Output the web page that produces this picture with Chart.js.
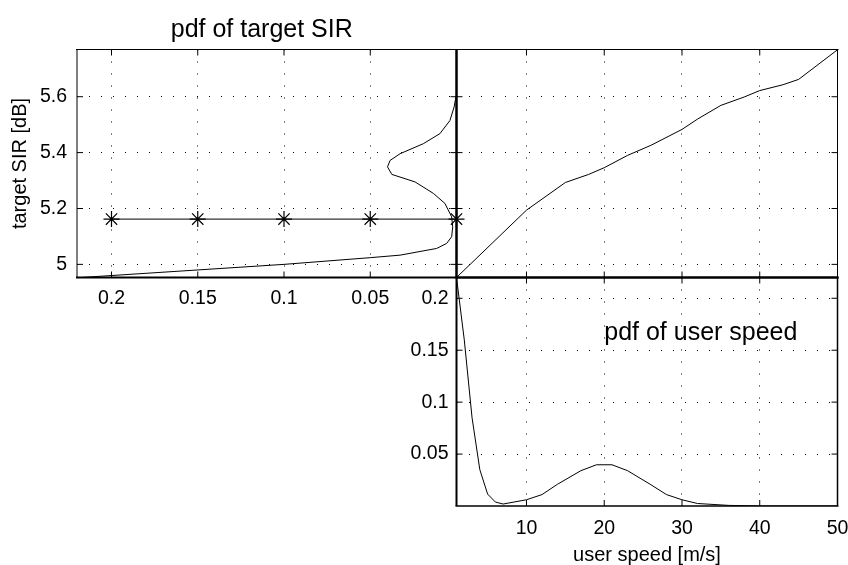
<!DOCTYPE html>
<html>
<head>
<meta charset="utf-8">
<script src="https://cdn.jsdelivr.net/npm/chart.js@4.4.1/dist/chart.umd.min.js"></script>
<style>
    html, body { margin: 0; padding: 0; background: #fff; }
    #wrap { position: relative; width: 848px; height: 565px; }
    #wrap canvas { position: absolute; left: 0; top: 0; }
</style>
</head>
<body>
<div id="wrap">
    <canvas id="sirPdfGraph" width="848" height="565"></canvas>
    <canvas id="sirSpeedGraph" width="848" height="565"></canvas>
    <canvas id="speedPdfGraph" width="848" height="565"></canvas>
</div>
<script>
// pdf of target SIR (top left, pdf axis reversed)
const sirPdfSir = [4.952, 5.0, 5.024, 5.033, 5.057, 5.075, 5.099, 5.134, 5.17, 5.218, 5.254, 5.295, 5.322, 5.349, 5.372, 5.396, 5.432, 5.468, 5.515, 5.563, 5.6];
const sirPdfValues = [0.22, 0.1, 0.05, 0.0327, 0.0115, 0.0057, 0.0028, 0.0022, 0.0028, 0.0067, 0.0134, 0.024, 0.0375, 0.04, 0.0385, 0.0327, 0.0192, 0.0096, 0.0038, 0.0014, 0.0003];
const starPdf = [0.2, 0.15, 0.1, 0.05, 0];
const starSir = 5.162;

// target SIR vs user speed (top right)
const meanSpeed = [1, 10, 15, 18, 20, 23, 26, 30, 32, 35, 38, 40, 43, 45, 50];
const meanSir = [4.953, 5.194, 5.293, 5.322, 5.346, 5.39, 5.426, 5.483, 5.52, 5.569, 5.599, 5.622, 5.643, 5.662, 5.768];

// pdf of user speed (bottom right)
const speedPdfSpeed = [1, 2, 3, 4, 5, 6, 7, 10, 12, 14, 17, 19, 21, 23, 26, 28, 30, 32, 36, 40, 50];
const speedPdfValues = [0.22, 0.16, 0.085, 0.035, 0.0115, 0.0038, 0.0019, 0.006, 0.011, 0.021, 0.034, 0.0397, 0.0397, 0.034, 0.0205, 0.011, 0.006, 0.0024, 0.0006, 0.0, 0.0];

// tick values
const pdfTicks = [0.2, 0.15, 0.1, 0.05];
const sirTicks = [5, 5.2, 5.4, 5.6];
const speedTicks = [10, 20, 30, 40, 50];
const speedPdfTicks = [0.05, 0.1, 0.15, 0.2];

const fontFamily = '"Liberation Sans", Arial, Helvetica, sans-serif';

// fixes the size of an axis so the three plot boxes line up
function fix_size(size) {
    return function (scale) {
        if (scale.isHorizontal()) {
            scale.height = size;
        } else {
            scale.width = size;
        }
        scale.paddingLeft = 0;
        scale.paddingRight = 0;
        scale.paddingTop = 0;
        scale.paddingBottom = 0;
    };
}

// builds a linear axis with dotted grid lines and fixed ticks
function get_axis(min, max, tickValues, size, showLabels, padding, extra) {
    const axis = {
        type: "linear",
        min: min,
        max: max,
        afterBuildTicks: (scale) => {
            scale.ticks = tickValues.map((v) => ({ value: v }));
        },
        afterFit: fix_size(size),
        ticks: {
            display: showLabels,
            autoSkip: false,
            maxRotation: 0,
            padding: padding,
            color: "#000",
            font: { family: fontFamily, size: 19.5 },
            callback: (value) => String(value),
        },
        grid: {
            color: "#000",
            lineWidth: 1,
            drawTicks: false,
            borderDash: [1, 11],
        },
        border: { display: false, dash: [1, 11] },
    };
    return Object.assign(axis, extra || {});
}

// draws the box round the plot and MATLAB style inward ticks
const panelBox = {
    id: "panelBox",
    afterDraw(chart, args, opts) {
        const { ctx, chartArea: a, scales } = chart;
        ctx.save();
        ctx.strokeStyle = "#000";
        ctx.lineWidth = 1;
        ctx.beginPath();
        scales.x.ticks.forEach((t) => {
            const x = scales.x.getPixelForValue(t.value);
            ctx.moveTo(x, a.bottom); ctx.lineTo(x, a.bottom - 6);
            ctx.moveTo(x, a.top); ctx.lineTo(x, a.top + 6);
        });
        scales.y.ticks.forEach((t) => {
            const y = scales.y.getPixelForValue(t.value);
            ctx.moveTo(a.left, y); ctx.lineTo(a.left + 6, y);
            ctx.moveTo(a.right, y); ctx.lineTo(a.right - 6, y);
        });
        ctx.stroke();
        const w = opts.widths;
        const side = (lw, x1, y1, x2, y2) => {
            ctx.lineWidth = lw;
            ctx.beginPath(); ctx.moveTo(x1, y1); ctx.lineTo(x2, y2); ctx.stroke();
        };
        side(w[0], a.left - 1, a.top, a.right + 1, a.top);
        side(w[1], a.right, a.top, a.right, a.bottom);
        side(w[2], a.left - 1, a.bottom, a.right + 1, a.bottom);
        side(w[3], a.left, a.top, a.left, a.bottom);
        ctx.restore();
    },
};

// writes the text labels of a panel
const panelText = {
    id: "panelText",
    afterDraw(chart, args, opts) {
        const ctx = chart.ctx;
        ctx.save();
        ctx.fillStyle = "#000";
        ctx.font = "25px " + fontFamily;
        (opts.items || []).forEach((item) => {
            let x, y;
            if (item.data) {
                x = chart.scales.x.getPixelForValue(item.data[0]);
                y = chart.scales.y.getPixelForValue(item.data[1]);
            } else {
                x = (chart.chartArea.left + chart.chartArea.right) / 2 + item.dx;
                y = item.y;
            }
            ctx.textAlign = item.align;
            ctx.textBaseline = "alphabetic";
            ctx.fillText(item.text, x, y);
        });
        ctx.restore();
    },
};

function base_options(padding) {
    return {
        responsive: false,
        animation: false,
        events: [],
        layout: { padding: padding },
        plugins: {
            legend: { display: false },
            tooltip: { enabled: false },
        },
        elements: { line: { tension: 0 } },
    };
}

// function to create the pdf of target SIR in the top left
function create_sir_pdf_graph() {
    const options = base_options({ left: 8, right: 391.5, top: 49.5, bottom: 247.5 });
    options.scales = {
        x: get_axis(0, 0.22, pdfTicks, 40, true, 9, { reverse: true, position: "bottom" }),
        y: get_axis(4.953, 5.769, sirTicks, 69, true, 10, {
            position: "left",
            title: {
                display: true,
                text: "target SIR [dB]",
                color: "#000",
                padding: 0,
                font: { family: fontFamily, size: 20 },
            },
        }),
    };
    options.plugins.panelBox = { widths: [1, 2, 2, 1] };
    options.plugins.panelText = { items: [{ text: "pdf of target SIR", dx: -5, y: 36.5, align: "center" }] };
    return new Chart("sirPdfGraph", {
        type: "line",
        data: {
            datasets: [
                {
                    data: sirPdfSir.map((s, i) => ({ x: sirPdfValues[i], y: s })),
                    borderColor: "#000",
                    borderWidth: 1,
                    pointRadius: 0,
                },
                {
                    data: starPdf.map((p) => ({ x: p, y: starSir })),
                    borderColor: "#333",
                    borderWidth: 1.3,
                    pointStyle: "star",
                    pointRadius: 8,
                    pointBorderColor: "#000",
                    pointBorderWidth: 1.2,
                    clip: false,
                },
            ],
        },
        options: options,
        plugins: [panelBox, panelText],
    });
}

// function to create the target SIR over user speed in the top right
function create_sir_speed_graph() {
    const options = base_options({ left: 456.5, right: 10.5, top: 49.5, bottom: 287.5 });
    options.scales = {
        x: get_axis(1, 50, speedTicks.slice(0, 4), 0, false, 0, { position: "bottom" }),
        y: get_axis(4.953, 5.769, sirTicks, 0, false, 0, { position: "left" }),
    };
    options.plugins.panelBox = { widths: [1, 1, 2, 2] };
    return new Chart("sirSpeedGraph", {
        type: "line",
        data: {
            datasets: [
                {
                    data: meanSpeed.map((v, i) => ({ x: v, y: meanSir[i] })),
                    borderColor: "#000",
                    borderWidth: 1,
                    pointRadius: 0,
                },
            ],
        },
        options: options,
        plugins: [panelBox],
    });
}

// function to create the pdf of user speed in the bottom right
function create_speed_pdf_graph() {
    const options = base_options({ left: 396.5, right: 10.5, top: 277.5, bottom: 0 });
    options.scales = {
        x: get_axis(1, 50, speedTicks, 59, true, 11, {
            position: "bottom",
            title: {
                display: true,
                text: "user speed [m/s]",
                color: "#000",
                padding: 0,
                font: { family: fontFamily, size: 20, lineHeight: 1 },
            },
        }),
        y: get_axis(0, 0.22, speedPdfTicks, 60, true, 8, { position: "left" }),
    };
    options.plugins.panelBox = { widths: [2, 1.5, 1.5, 2] };
    options.plugins.panelText = { items: [{ text: "pdf of user speed", data: [20, 0.16], align: "left" }] };
    return new Chart("speedPdfGraph", {
        type: "line",
        data: {
            datasets: [
                {
                    data: speedPdfSpeed.map((v, i) => ({ x: v, y: speedPdfValues[i] })),
                    borderColor: "#000",
                    borderWidth: 1,
                    pointRadius: 0,
                },
            ],
        },
        options: options,
        plugins: [panelBox, panelText],
    });
}

create_sir_pdf_graph();
create_sir_speed_graph();
create_speed_pdf_graph();
</script>
</body>
</html>
